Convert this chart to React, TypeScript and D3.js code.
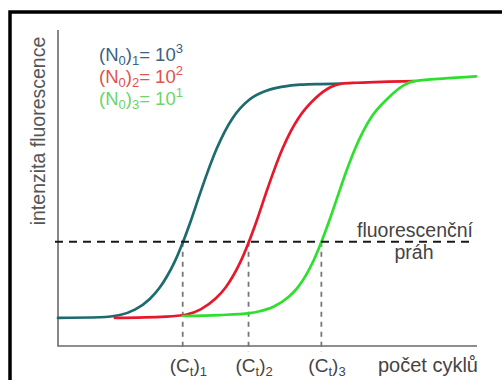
import React from 'react';
import * as d3 from 'd3';

// cycle / relative fluorescence
const tealCycles = [0, 4.2, 6.2, 7.7, 9.2, 10.2, 10.9, 11.7, 12.5, 13.3, 14.2, 15.0, 15.9, 16.7, 17.5, 19.2, 20.9, 22.6, 24.3, 26.3, 28.4];
const tealValues = [8.9, 9.1, 9.8, 11.5, 14.9, 18.5, 21.9, 26.7, 32.7, 39.5, 47.9, 55.1, 62.4, 67.8, 72.1, 78.0, 80.8, 82.1, 82.7, 82.9, 83.0];

const redCycles = [5.7, 10.8, 12.8, 14.3, 15.8, 16.8, 17.5, 18.3, 19.1, 19.9, 20.8, 21.6, 22.5, 23.3, 24.1, 25.8, 27.3, 28.4, 30.0, 32.5, 35.7];
const redValues = [8.9, 9.3, 9.9, 11.6, 15.0, 18.5, 21.9, 26.7, 32.7, 39.5, 47.9, 55.1, 62.4, 67.8, 72.1, 78.4, 81.9, 83.0, 83.3, 83.6, 83.8];

const greenCycles = [12.5, 16.2, 19.2, 20.1, 21.6, 23.1, 24.1, 24.8, 25.6, 26.4, 27.2, 28.1, 28.9, 29.8, 30.6, 31.4, 33.1, 34.6, 35.7, 38.5, 41.9];
const greenValues = [9.5, 9.8, 10.4, 10.9, 12.4, 15.5, 18.8, 22.1, 26.9, 32.9, 39.7, 48.0, 55.3, 62.6, 68.0, 72.4, 78.5, 82.4, 83.8, 84.6, 85.3];

const ctValues = [12.5, 19.1, 26.4];
const ctIndex = ['1', '2', '3'];
const threshold = 33.0;

const legendExponents = ['3', '2', '1'];
const seriesColors = ['#1d6b6e', '#e8182c', '#2ee02e'];
const legendColors = ['#3a6284', '#e0524c', '#6cd46c'];

const FONT = '"Liberation Sans", Arial, sans-serif';

export default function App() {
  const width = 502;
  const height = 380;
  const x = d3.scaleLinear().domain([0, 42]).range([58, 477]);
  const y = d3.scaleLinear().domain([0, 100]).range([346, 30]);

  const line = d3
    .line<[number, number]>()
    .x(d => x(d[0]))
    .y(d => y(d[1]))
    .curve(d3.curveMonotoneX);

  const series = [
    d3.zip(tealCycles, tealValues) as [number, number][],
    d3.zip(redCycles, redValues) as [number, number][],
    d3.zip(greenCycles, greenValues) as [number, number][],
  ];

  const yT = y(threshold);

  return (
    <svg
      width={width}
      height={height}
      style={{ position: 'absolute', left: 0, top: 0, background: '#fff' }}
      fontFamily={FONT}
    >
      {/* frame (left + top) */}
      <path d={`M10,${height} V12 H${width}`} fill="none" stroke="#000" strokeWidth={3.5} />

      {/* axes */}
      <path
        d={`M${x(0)},${y(100)} V${y(0)} H${x(42)}`}
        fill="none"
        stroke="#6a6a6a"
        strokeWidth={1.6}
      />

      {/* Ct drop lines */}
      {ctValues.map((c, i) => (
        <line
          key={'ct' + i}
          x1={x(c)}
          x2={x(c)}
          y1={yT}
          y2={y(0) + 6}
          stroke="#777"
          strokeWidth={1.8}
          strokeDasharray="5 5"
        />
      ))}

      {/* curves */}
      {series.map((s, i) => (
        <path
          key={'s' + i}
          d={line(s) || ''}
          fill="none"
          stroke={seriesColors[i]}
          strokeWidth={2.7}
          strokeLinecap="round"
        />
      ))}

      {/* threshold */}
      <line
        x1={x(0) - 3}
        x2={x(42) - 2}
        y1={yT}
        y2={yT}
        stroke="#1a1a1a"
        strokeWidth={2}
        strokeDasharray="8 6"
      />
      <text x={473} y={yT - 5} textAnchor="end" fontSize={19.5} fill="#444">
        fluorescenční
      </text>
      <text x={414} y={yT + 17} textAnchor="middle" fontSize={19.5} fill="#444">
        práh
      </text>

      {/* legend */}
      {legendExponents.map((e, i) => (
        <text key={'lg' + i} x={99} y={61 + i * 22} fontSize={18.5} fill={legendColors[i]}>
          (N
          <tspan fontSize={13} dy={4}>0</tspan>
          <tspan dy={-4}>)</tspan>
          <tspan fontSize={13} dy={4}>{i + 1}</tspan>
          <tspan dy={-4}>= 10</tspan>
          <tspan fontSize={13} dy={-8}>{e}</tspan>
        </text>
      ))}

      {/* y label */}
      <text
        transform={`translate(45,${(35 + 227) / 2}) rotate(-90)`}
        textAnchor="middle"
        fontSize={19.5}
        fill="#555"
      >
        intenzita fluorescence
      </text>

      {/* x labels */}
      {ctValues.map((c, i) => (
        <text key={'cl' + i} x={x(c) - 13} y={372} fontSize={19} fill="#444">
          (C
          <tspan fontSize={13} dy={4}>t</tspan>
          <tspan dy={-4}>)</tspan>
          <tspan fontSize={13} dy={4}>{ctIndex[i]}</tspan>
        </text>
      ))}
      <text x={478} y={372} textAnchor="end" fontSize={20} fill="#444">
        počet cyklů
      </text>
    </svg>
  );
}
